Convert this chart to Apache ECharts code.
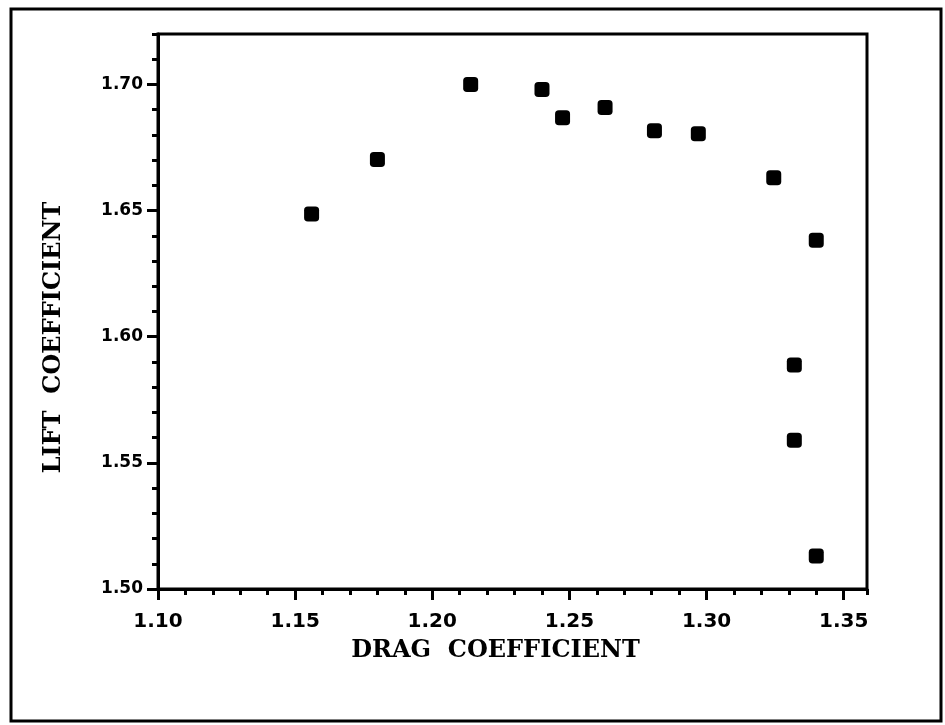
<!DOCTYPE html>
<html><head><meta charset="utf-8">
<script src="https://cdn.jsdelivr.net/npm/echarts@6/dist/echarts.min.js"></script>
<style>html,body{margin:0;padding:0;background:#fff}#c{width:945px;height:725px}</style>
</head><body><div id="c"></div>
<script>
// Data
const dragCoefficient = [1.156, 1.180, 1.214, 1.240, 1.2475, 1.263, 1.281, 1.297, 1.3245, 1.340, 1.332, 1.332, 1.340];
const liftCoefficient = [1.6486, 1.6703, 1.700, 1.698, 1.6868, 1.6909, 1.6816, 1.6805, 1.663, 1.6382, 1.5888, 1.559, 1.5131];
const xRange = [1.10, 1.3585];
const yRange = [1.50, 1.72];
const majorStep = 0.05;
const minorStep = 0.01;
const xTitle = 'DRAG  COEFFICIENT';
const yTitle = 'LIFT  COEFFICIENT';

const points = dragCoefficient.map((x, i) => [x, liftCoefficient[i]]);
const black = '#000';
const labelStyle = (size, margin) => ({
  color: black, fontFamily: 'DejaVu Sans', fontWeight: 'bold', fontSize: size,
  margin: margin, showMaxLabel: false, formatter: v => v.toFixed(2)
});
const titleStyle = (pad) => ({
  color: black, fontFamily: 'DejaVu Serif', fontWeight: 'bold', fontSize: 24, padding: pad
});

const chart = echarts.init(document.getElementById('c'), null, {renderer: 'canvas'});
chart.setOption({
  animation: false,
  backgroundColor: '#fff',
  grid: {left: 158, right: 78, top: 34, bottom: 136, show: true, borderColor: black, borderWidth: 3, backgroundColor: 'transparent'},
  xAxis: [
    {
      type: 'value', min: xRange[0], max: xRange[1], interval: majorStep, position: 'bottom',
      axisLine: {show: true, lineStyle: {color: black, width: 3}},
      axisTick: {show: true, length: 11, lineStyle: {color: black, width: 3}},
      splitLine: {show: false},
      axisLabel: labelStyle(20, 23),
      name: xTitle, nameLocation: 'middle', nameGap: 50,
      nameTextStyle: titleStyle([0, 34, 0, 0])
    },
    {
      type: 'value', min: xRange[0], max: xRange[1], interval: minorStep, position: 'bottom',
      axisLine: {show: false},
      axisTick: {show: true, length: 6, lineStyle: {color: black, width: 3}},
      splitLine: {show: false}, axisLabel: {show: false}
    }
  ],
  yAxis: [
    {
      type: 'value', min: yRange[0], max: yRange[1], interval: majorStep, position: 'left',
      axisLine: {show: true, lineStyle: {color: black, width: 3}},
      axisTick: {show: true, length: 11, lineStyle: {color: black, width: 3}},
      splitLine: {show: false},
      axisLabel: labelStyle(17, 15),
      name: yTitle, nameLocation: 'middle', nameGap: 92,
      nameTextStyle: titleStyle([0, 52, 0, 0])
    },
    {
      type: 'value', min: yRange[0], max: yRange[1], interval: minorStep, position: 'left',
      axisLine: {show: false},
      axisTick: {show: true, length: 6, lineStyle: {color: black, width: 3}},
      splitLine: {show: false}, axisLabel: {show: false}
    }
  ],
  series: [{
    type: 'scatter', xAxisIndex: 0, yAxisIndex: 0,
    symbol: 'roundRect', symbolSize: 15,
    itemStyle: {color: black, opacity: 1},
    emphasis: {disabled: true},
    data: points
  }],
  graphic: [{
    type: 'rect', silent: true, z: 100,
    shape: {x: 11, y: 9, width: 930, height: 712},
    style: {fill: 'none', stroke: black, lineWidth: 3}
  }]
});
</script></body></html>
